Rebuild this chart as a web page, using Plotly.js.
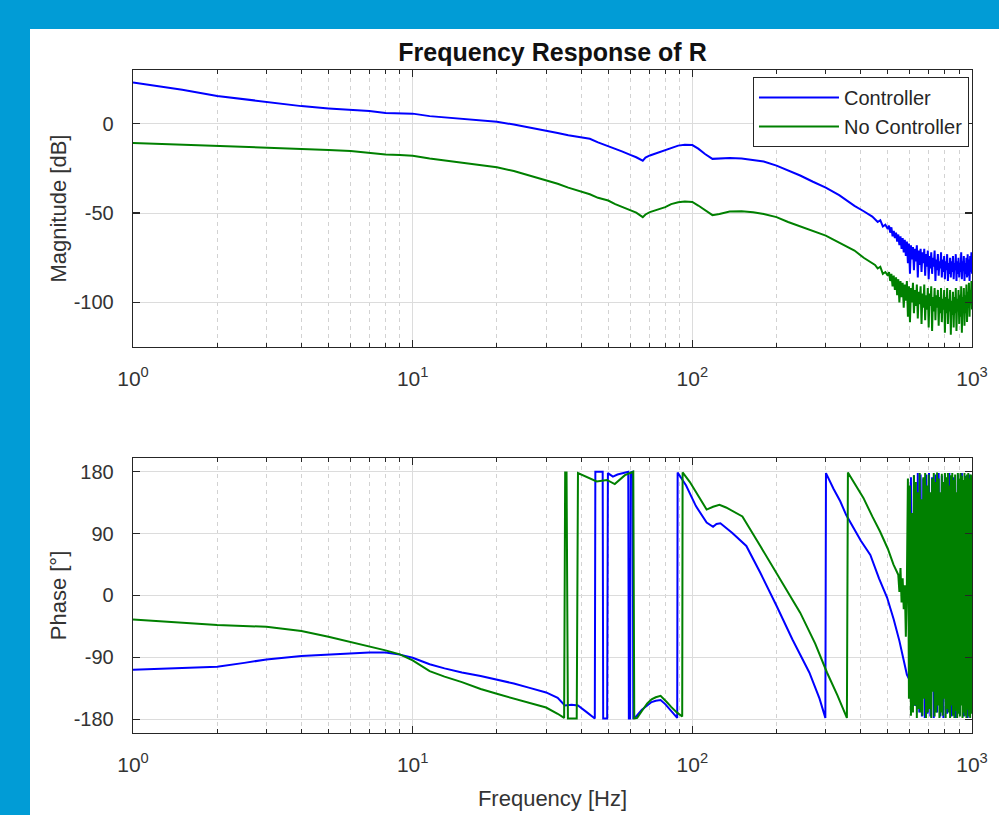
<!DOCTYPE html>
<html><head><meta charset="utf-8">
<script src="https://cdn.plot.ly/plotly-3.0.1.min.js"></script>
<style>
html,body{margin:0;padding:0;background:#019cd6;width:999px;height:815px;overflow:hidden}
#plot{position:absolute;left:30px;top:29px;width:969px;height:786px;background:#fff}
</style></head><body><div id="plot"></div><script>
// ---------- data ----------
var seriesNames = ['Controller', 'No Controller'];
var freqMag = [1,1.5,2,3,4,5,6,7,8,9,10,11.5,13,15,17.5,20,23,26,30,33,36,40,43,46,50,53,56,60,63,66.5,68,70.5,73,76,80,84,89,94,100,105,111,118,125,136,150,165,180,200,220,243,270,300,335,380,410,440,
450,460,470,480,490,
500,505,510,515,520,525,530,535,540,545,550,
555,560,565,570,575,580,585,590,595,600,
605,610,615,620,625,630,635,640,645,650,
655,660,665,670,675,680,685,690,695,700,
705,710,715,720,725,730,735,740,745,750,
755,760,765,770,775,780,785,790,795,800,
805,810,815,820,825,830,835,840,845,850,
855,860,865,870,875,880,885,890,895,900,
905,910,915,920,925,930,935,940,945,950,
955,960,965,970,975,980,985,990,995,1000];
var magController = [23,19,15.5,12.3,9.8,8.5,7.8,7,6,5.8,5.6,4.2,3.5,2.8,2,1,-0.5,-2,-4,-5.2,-6.5,-7.8,-8.5,-10.5,-12.5,-14,-15.5,-17.5,-18.8,-20.7,-19,-17.8,-17,-16,-15,-13.5,-12.3,-11.8,-12,-14,-17,-19.7,-19.5,-19.2,-19.5,-20.2,-21.2,-23.5,-26,-29,-32.5,-35.8,-40,-46,-49,-52,
-53.5,-55,-54,-57.5,-56.5,
-59,-57,-61,-58,-63,-60,-64,-61,-66,-62,-68,
-63,-70,-64,-72,-65,-74,-66,-78,-67,-84,
-68,-76,-69,-82,-70,-77,-68,-86,-71,-79,
-70,-83,-72,-78,-70,-85,-73,-80,-71,-87,
-74,-81,-72,-84,-75,-80,-71,-88,-76,-82,
-73,-85,-77,-81,-72,-86,-76,-83,-74,-87,
-77,-82,-73,-88,-78,-84,-75,-86,-77,-83,
-74,-87,-78,-82,-73,-88,-77,-84,-75,-86,
-78,-83,-72,-87,-77,-82,-74,-88,-78,-84,
-75,-86,-73,-85,-76,-88,-74,-83,-72,-84];
var magNoController = [-10.8,-11.7,-12.3,-13.2,-14.1,-14.7,-15.3,-16.4,-17.2,-17.5,-18,-19.5,-20.5,-21.8,-23,-24.4,-26.5,-28.8,-31.8,-33.6,-35.8,-38,-39.5,-41.5,-43,-45,-46.5,-48.6,-49.8,-52.3,-50.8,-49.5,-48.8,-47.8,-46.7,-45,-44,-43.5,-43.8,-45.8,-48.5,-51.2,-50.5,-49.2,-49,-49.5,-50.5,-52.3,-55,-57.5,-60,-62.6,-66.5,-71,-75,-78,
-79,-81,-80,-84,-83,
-85,-83,-88,-84,-91,-85,-93,-86,-96,-87,-100,
-88,-97,-89,-103,-90,-99,-88,-108,-91,-111,
-92,-100,-89,-106,-93,-102,-90,-109,-94,-101,
-91,-112,-95,-103,-90,-110,-96,-104,-92,-114,
-95,-102,-91,-116,-97,-105,-92,-110,-96,-103,
-93,-113,-97,-106,-92,-111,-98,-104,-93,-117,
-97,-106,-92,-112,-98,-105,-93,-118,-99,-107,
-94,-114,-97,-106,-92,-116,-98,-105,-93,-112,
-96,-108,-91,-117,-97,-104,-92,-113,-96,-106,
-90,-111,-94,-103,-89,-108,-93,-101,-88,-104];

var freqPhController = [1,1.5,2,2.5,3,4,5,6,7,8,9,10,11.5,13,15,17.5,20,23,26,30,33,35,37,39,42,44.8,45,47.8,48,49.6,49.9,52,54,57,59,59.3,59.9,60.2,61.2,61.5,63,66,71.5,74,77,80,84,88.3,88.6,95,103,112.5,118.6,122,126,132,139,156,175,200,228,262,285,299,300.5,320,338,355,375,400,433,465,497,525,550,570,585,600,605,608,615,620,625,633,640,648,655,662,670,678,686,694,702,710,720,730,740,750,760,770,780,790,800,815,830,845,860,875,890,905,920,935,950,965,980,1000];
var phaseController = [-108,-106,-103.5,-98,-93,-88,-85.6,-84,-83,-83,-86,-90.5,-100,-106,-112,-117,-122,-128,-134,-141,-149,-160,-159,-160,-170,-179,180,180,-179,-179,178,173,176,178,180,-179,-179,179,180,-178,-176,-166,-155,-153,-152,-158,-168,-178,179,160,130,106,100,104,105,98,91,72,33,-15,-64,-112,-150,-178,178,155,137,117,100,80,59,25,-3,-35,-66,-95,-115,-124,172,-140,-150,175,-160,-158,178,-170,176,-176,170,-178,176,-172,178,-176,172,-178,176,-170,178,-176,174,-178,176,-172,178,-176,172,-178,176,-174,178,-176,174,-178,176,-170];

var freqPhNoController = [1,1.5,2,3,4,5,6,7,8,9,10,11.5,13,15,17.5,20,23,26,30,33,34.8,35.1,35.5,35.9,38.6,39,42,45.5,49.5,52.8,57.4,61.5,62,63.5,66,69,71.5,74,77,79,81,84,88,92,92.3,98,105,112.5,118.6,125,132,151,175,207,243,275,303,330,357,360,385,409,440,469,500,524,545,
550,555,560,565,570,575,580,585,590,595,600,605,610,615,620,625,630,635,640,645,650,655,660,665,670,675,680,685,690,695,700,705,710,715,720,725,730,735,740,745,750,755,760,765,770,775,780,785,790,795,800,805,810,815,820,825,830,835,840,845,850,855,860,865,870,875,880,885,890,895,900,905,910,915,920,925,930,935,940,945,950,955,960,965,970,975,980,985,990,995,1000];
var phaseNoController = [-34.8,-40,-43,-45.5,-51.8,-60,-67.7,-73.5,-79.8,-85.6,-94.3,-110,-118,-126,-136,-143,-150,-156,-163,-172,-178,179,179,-179,-179,178,172,166,168,162,175,180,-179,-178,-168,-157,-151,-148,-146,-150,-155,-162,-170,-176,179,165,145,125,129,132,128,115,72,23,-25,-70,-112,-145,-178,179,160,142,115,93,68,45,30,
5,40,-10,25,-20,15,-60,20,170,-150,160,-175,120,-170,175,-160,165,-178,150,-165,178,-170,140,-175,172,-150,178,-178,160,-170,176,-165,150,-178,170,-140,178,-176,165,-170,179,-160,170,-178,150,-170,177,-175,165,-150,178,-178,172,-165,178,-170,160,-178,175,-160,178,-175,168,-178,176,-168,150,-178,178,-172,170,-176,178,-160,174,-178,168,-170,178,-175,172,-178,176,-166,178,-176,170,-178,176,-172,175];

var xTickVals = [1, 10, 100, 1000];
var xTickText = ['10<sup>0</sup>', '10<sup>1</sup>', '10<sup>2</sup>', '10<sup>3</sup>'];
var xMinorVals = [2,3,4,5,6,7,8,9,20,30,40,50,60,70,80,90,200,300,400,500,600,700,800,900];
var magTicks = [-100, -50, 0];
var magTickText = ['-100', '-50', '0'];
var phaseTicks = [-180, -90, 0, 90, 180];
var phaseTickText = ['-180', '-90', '0', '90', '180'];

// ---------- chart ----------
var FONT = 'Liberation Sans, Arial, Helvetica, sans-serif';
var colC = '#0000ff', colN = '#008000';

var traces = [
  {x: freqMag, y: magController, name: seriesNames[0], type: 'scatter', mode: 'lines', line: {color: colC, width: 2}, xaxis: 'x', yaxis: 'y'},
  {x: freqMag, y: magNoController, name: seriesNames[1], type: 'scatter', mode: 'lines', line: {color: colN, width: 2}, xaxis: 'x', yaxis: 'y'},
  {x: freqPhController, y: phaseController, name: seriesNames[0], showlegend: false, type: 'scatter', mode: 'lines', line: {color: colC, width: 2}, xaxis: 'x2', yaxis: 'y2'},
  {x: freqPhNoController, y: phaseNoController, name: seriesNames[1], showlegend: false, type: 'scatter', mode: 'lines', line: {color: colN, width: 2}, xaxis: 'x2', yaxis: 'y2'}
];

function xAxis(anchor, title) {
  var a = {
    type: 'log', range: [0, 3], anchor: anchor,
    tickmode: 'array', tickvals: xTickVals, ticktext: xTickText,
    showline: true, linecolor: '#262626', linewidth: 1.3, mirror: 'ticks',
    ticks: 'inside', ticklen: 7, tickwidth: 1.3, tickcolor: '#262626',
    showgrid: true, gridcolor: '#dcdcdc', gridwidth: 1, zeroline: false,
    ticklabelstandoff: 12,
    tickfont: {family: FONT, size: 21, color: '#333'},
    minor: {tickmode: 'array', tickvals: xMinorVals, ticks: 'inside', ticklen: 4, tickwidth: 1, tickcolor: '#262626',
            showgrid: true, gridcolor: '#d2d2d2', griddash: '4px,4px', gridwidth: 1}
  };
  if (title) a.title = {text: title, font: {family: FONT, size: 22, color: '#333'}, standoff: 16};
  return a;
}
function yAxis(anchor, domain, range, ticks, tickText, title) {
  return {
    anchor: anchor, domain: domain, range: range,
    tickmode: 'array', tickvals: ticks, ticktext: tickText,
    showline: true, linecolor: '#262626', linewidth: 1.3, mirror: 'ticks',
    ticks: 'inside', ticklen: 7, tickwidth: 1.3, tickcolor: '#262626',
    showgrid: true, gridcolor: '#dcdcdc', gridwidth: 1, zeroline: false,
    ticklabelstandoff: 14,
    tickfont: {family: FONT, size: 20, color: '#333'},
    title: {text: title, font: {family: FONT, size: 22, color: '#333'}, standoff: 1}
  };
}

var layout = {
  width: 969, height: 786,
  margin: {l: 103, r: 27, t: 41, b: 82},
  paper_bgcolor: '#ffffff', plot_bgcolor: '#ffffff',
  showlegend: true,
  title: {text: 'Frequency Response of R', font: {family: FONT, size: 25, color: '#111', weight: 'bold'},
          x: 0.5, xref: 'paper', y: 1 - 23 / 786, yref: 'container', yanchor: 'middle'},
  xaxis: xAxis('y', null),
  yaxis: yAxis('x', [0.582, 1], [-125, 30], magTicks, magTickText, 'Magnitude [dB]'),
  xaxis2: xAxis('y2', 'Frequency [Hz]'),
  yaxis2: yAxis('x2', [0, 0.4148], [-200, 200], phaseTicks, phaseTickText, 'Phase [°]'),
  legend: {x: 0.9964, xanchor: 'right', y: 0.9894, yanchor: 'top', bgcolor: '#ffffff',
           bordercolor: '#262626', borderwidth: 1, itemwidth: 80,
           font: {family: FONT, size: 20, color: '#262626'}, tracegroupgap: 0}
};

Plotly.newPlot('plot', traces, layout, {displayModeBar: false, staticPlot: true});
</script></body></html>
